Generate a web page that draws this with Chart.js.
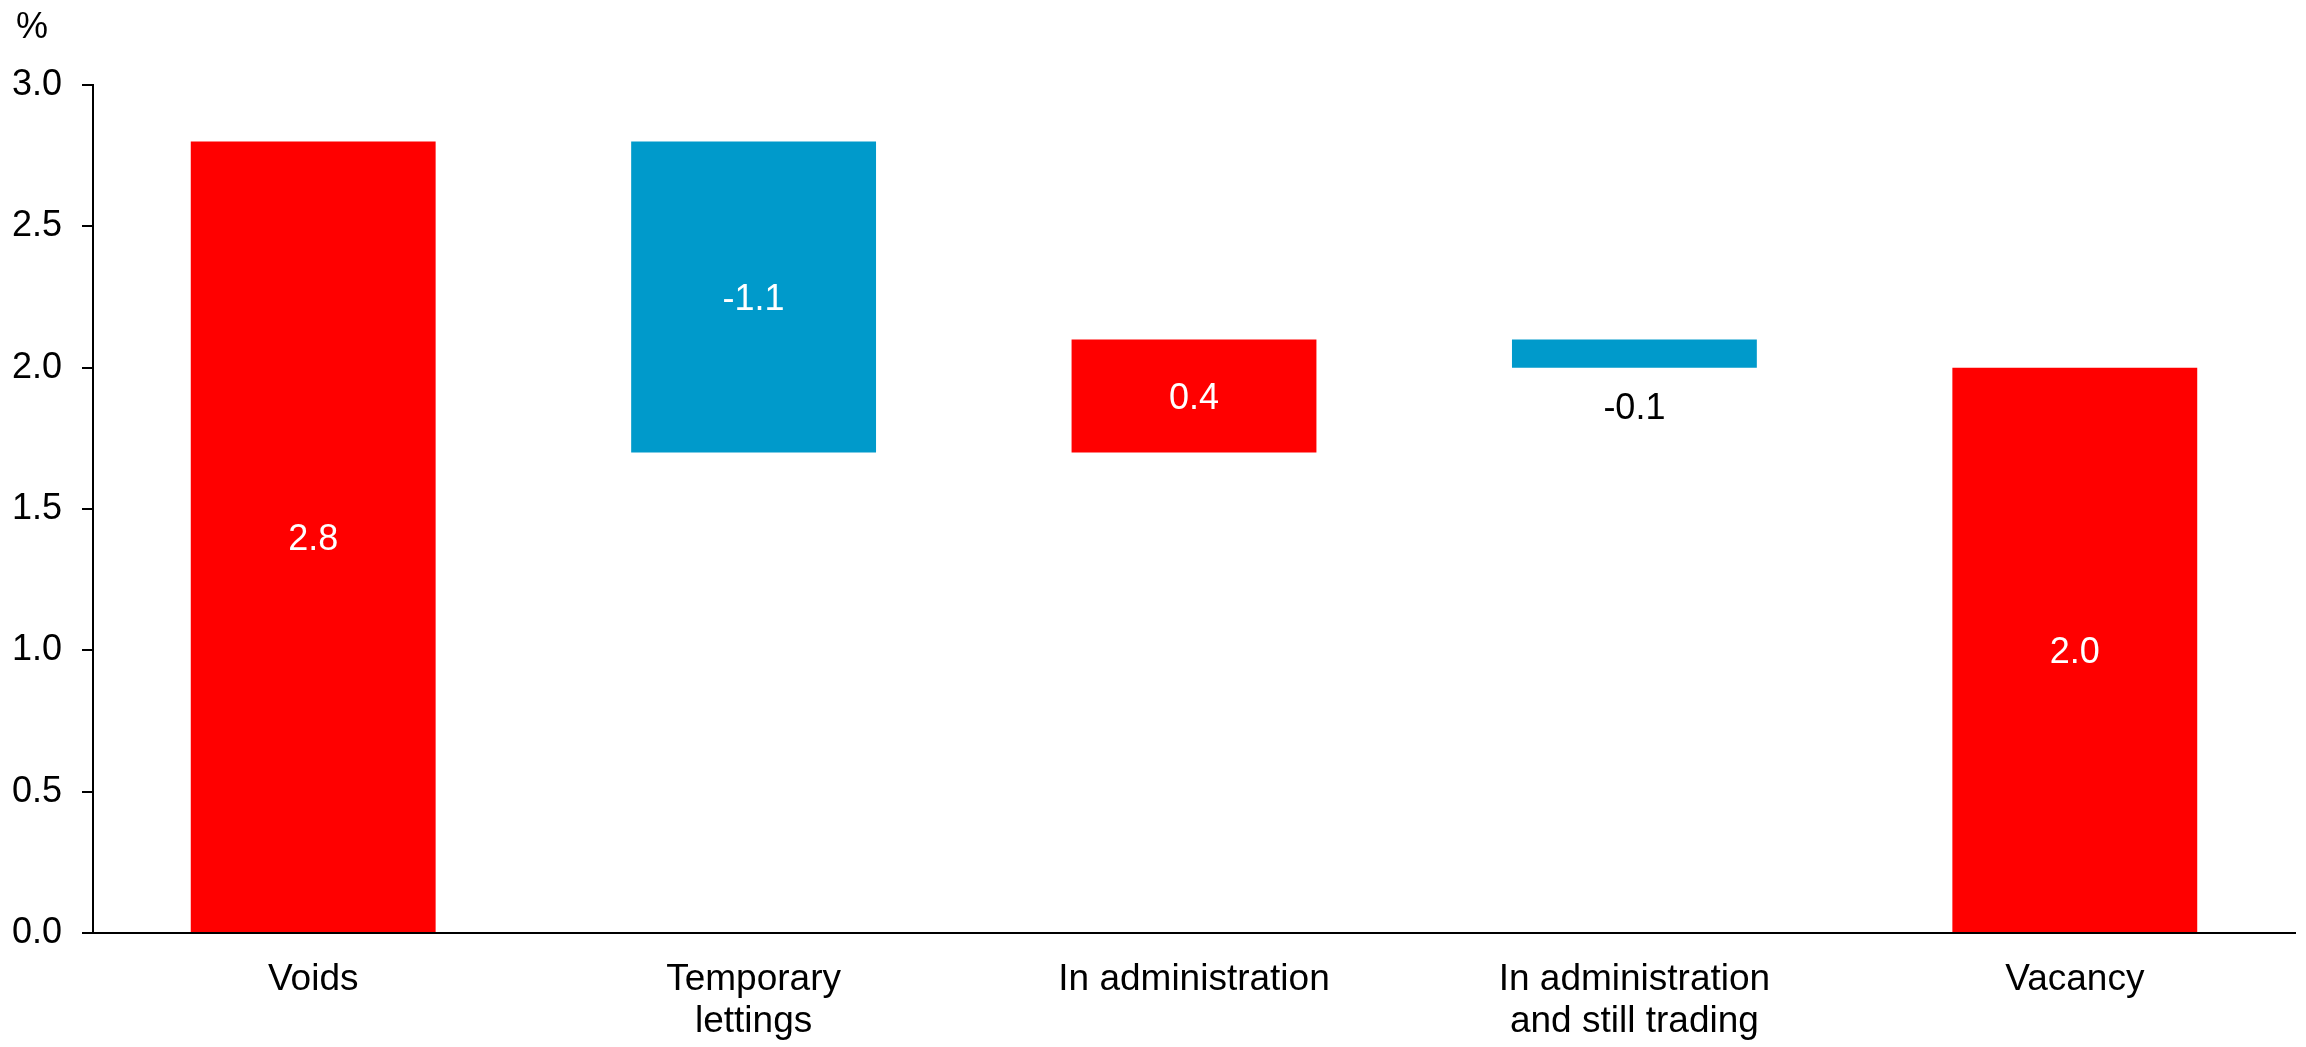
<!DOCTYPE html>
<html>
<head>
<meta charset="utf-8">
<script src="https://cdn.jsdelivr.net/npm/chart.js@4/dist/chart.umd.min.js"></script>
<style>
  html, body { margin: 0; padding: 0; background: #fff; }
  #wrap { width: 2306px; height: 1047px; }
</style>
</head>
<body>
<div id="wrap"><canvas id="c" width="2306" height="1047"></canvas></div>
<script>
// ---- Data ----
const categories = ['Voids', ['Temporary', 'lettings'], 'In administration', ['In administration', 'and still trading'], 'Vacancy'];
const changes = [2.8, -1.1, 0.4, -0.1, 2.0];
const isTotal = [false, false, false, false, true];
const yTicks = { min: 0, max: 3, step: 0.5 };
const unitLabel = '%';

// ---- Build floating bars ----
const RED = '#FF0000', BLUE = '#009ACB';
let running = 0;
const floating = [];
changes.forEach((v, i) => {
  if (isTotal[i]) { floating.push([0, v]); running = v; }
  else { const s = running; running = +(running + v).toFixed(4); floating.push([Math.min(s, running), Math.max(s, running)]); }
});
const colors = changes.map((v, i) => (isTotal[i] || v >= 0) ? RED : BLUE);

const FONT = '"Liberation Sans", Arial, sans-serif';

const labelPlugin = {
  id: 'barLabels',
  afterDatasetsDraw(chart) {
    const ctx = chart.ctx;
    const meta = chart.getDatasetMeta(0);
    ctx.save();
    ctx.font = '36px ' + FONT;
    ctx.textAlign = 'center';
    ctx.textBaseline = 'alphabetic';
    const capHalf = 36 * 0.716 / 2;
    meta.data.forEach((bar, i) => {
      const txt = changes[i].toFixed(1);
      const top = Math.min(bar.y, bar.base), bottom = Math.max(bar.y, bar.base);
      const h = bottom - top;
      if (h > 50) {
        ctx.fillStyle = '#FFFFFF';
        ctx.fillText(txt, bar.x, (top + bottom) / 2 + capHalf);
      } else {
        ctx.fillStyle = '#000000';
        ctx.fillText(txt, bar.x, bottom + 51);
      }
    });
    // unit label
    ctx.textAlign = 'left';
    ctx.fillStyle = '#000000';
    ctx.fillText(unitLabel, 16, 38);
    ctx.restore();
  }
};

new Chart(document.getElementById('c'), {
  type: 'bar',
  data: {
    labels: categories,
    datasets: [{
      data: floating,
      backgroundColor: colors,
      borderWidth: 0,
      barPercentage: 1.0,
      categoryPercentage: 0.556
    }]
  },
  options: {
    responsive: false,
    animation: false,
    layout: { padding: { left: 0, right: 11, top: 85, bottom: 0 } },
    plugins: {
      legend: { display: false },
      tooltip: { enabled: false },
      title: { display: false }
    },
    scales: {
      x: {
        grid: { display: false, drawTicks: false },
        border: { display: true, color: '#000', width: 2 },
        ticks: {
          color: '#000',
          font: { family: FONT, size: 37, lineHeight: 1.14 },
          padding: 26,
          maxRotation: 0,
          autoSkip: false
        },
        afterFit(scale) { scale.height = 114; }
      },
      y: {
        min: yTicks.min,
        max: yTicks.max,
        grid: { drawOnChartArea: false, drawTicks: true, tickLength: 11, color: '#000', lineWidth: 2 },
        border: { display: true, color: '#000', width: 2 },
        ticks: {
          stepSize: yTicks.step,
          color: '#000',
          font: { family: FONT, size: 36 },
          padding: 20,
          callback: v => Number(v).toFixed(1)
        },
        afterFit(scale) { scale.width = 93; }
      }
    }
  },
  plugins: [labelPlugin]
});
</script>
</body>
</html>
